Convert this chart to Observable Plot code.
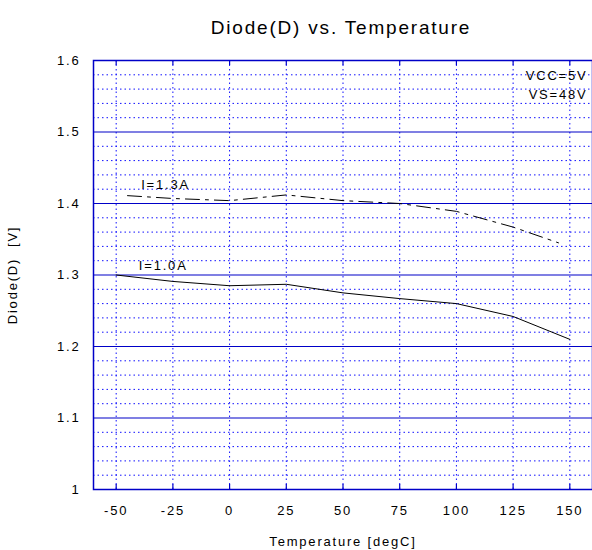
<!DOCTYPE html>
<html>
<head>
<meta charset="utf-8">
<script src="https://cdn.jsdelivr.net/npm/d3@7"></script>
<script src="https://cdn.jsdelivr.net/npm/@observablehq/plot@0.6"></script>
<style>
  html, body { margin: 0; padding: 0; background: #fff; }
  svg { font-family: "Liberation Sans", Arial, sans-serif; }
</style>
</head>
<body>
<div id="chart"></div>
<script>
const temps = [-50, -25, 0, 25, 50, 75, 100, 125, 150];
const i10 = [1.300, 1.291, 1.285, 1.287, 1.275, 1.267, 1.260, 1.242, 1.210];
const temps13 = [-45, -25, 0, 25, 50, 75, 100, 125, 145];
const i13 = [1.411, 1.407, 1.404, 1.412, 1.404, 1.400, 1.389, 1.367, 1.345];
const xTicks = [-50, -25, 0, 25, 50, 75, 100, 125, 150];
const yTicks = [1, 1.1, 1.2, 1.3, 1.4, 1.5, 1.6];
const majorY = [1.1, 1.2, 1.3, 1.4, 1.5];
const minorY = [1.02, 1.04, 1.06, 1.08, 1.12, 1.14, 1.16, 1.18, 1.22, 1.24, 1.26, 1.28,
                1.32, 1.34, 1.36, 1.38, 1.42, 1.44, 1.46, 1.48, 1.52, 1.54, 1.56, 1.58];
const rows10 = temps.map((t, i) => ({t, v: i10[i]}));
const rows13 = temps13.map((t, i) => ({t, v: i13[i]}));
const labels = [
  {t: -40, v: 1.3135, text: "I=1.0A"},
  {t: -39, v: 1.4265, text: "I=1.3A"}
];

const blue = "#0000c8";
const dotBlue = "#1010ff";
const ls = "1.8px";

const chart = Plot.plot({
  width: 592,
  height: 550,
  marginTop: 60,
  marginBottom: 61,
  marginLeft: 93,
  marginRight: 0,
  style: {fontFamily: "Liberation Sans, Arial, sans-serif", fontSize: "13px", letterSpacing: ls, background: "#fff"},
  x: {type: "linear", domain: [-60, 160], ticks: xTicks, tickSize: 0, tickPadding: 16, tickFormat: d => String(d), label: null},
  y: {type: "linear", domain: [1, 1.6], ticks: yTicks, tickSize: 0, tickPadding: 13, tickFormat: d => String(+d.toFixed(1)), label: null},
  marks: [
    Plot.ruleY(minorY, {stroke: dotBlue, strokeWidth: 1, strokeDasharray: "1.5,3"}),
    Plot.ruleX(xTicks, {stroke: dotBlue, strokeWidth: 1, strokeDasharray: "1.5,3"}),
    Plot.ruleY(majorY, {stroke: blue, strokeWidth: 1.1}),
    Plot.ruleX(xTicks, {y1: 1.6, y2: 1.593, stroke: blue, strokeWidth: 1.2}),
    Plot.ruleX(xTicks, {y1: 1.0, y2: 1.007, stroke: blue, strokeWidth: 1.2}),
    Plot.frame({stroke: blue, strokeWidth: 1.5}),
    Plot.line(rows10, {x: "t", y: "v", stroke: "#000", strokeWidth: 1}),
    Plot.line(rows13, {x: "t", y: "v", stroke: "#000", strokeWidth: 1, strokeDasharray: "14,6,3,6"}),
    Plot.text(labels, {x: "t", y: "v", text: "text", textAnchor: "start", fontSize: 13, fill: "#000"}),
    Plot.text(["VCC=5V"], {frameAnchor: "top-right", dx: -5, dy: 10, textAnchor: "end", fontSize: 13, fill: "#000"}),
    Plot.text(["VS=48V"], {frameAnchor: "top-right", dx: -5, dy: 29, textAnchor: "end", fontSize: 13, fill: "#000"}),
    Plot.text(["Diode(D) vs. Temperature"], {frameAnchor: "top", dy: -40, fontSize: 19, letterSpacing: "1.7px", fill: "#000", dx: -2}),
    Plot.text(["Temperature [degC]"], {frameAnchor: "bottom", dy: 56, fontSize: 13, fill: "#000"}),
    Plot.text(["Diode(D)  [V]"], {frameAnchor: "left", dx: -81, rotate: -90, textAnchor: "middle", lineAnchor: "middle", fontSize: 13, fill: "#000"})
  ]
});
document.getElementById("chart").appendChild(chart);
</script>
</body>
</html>
